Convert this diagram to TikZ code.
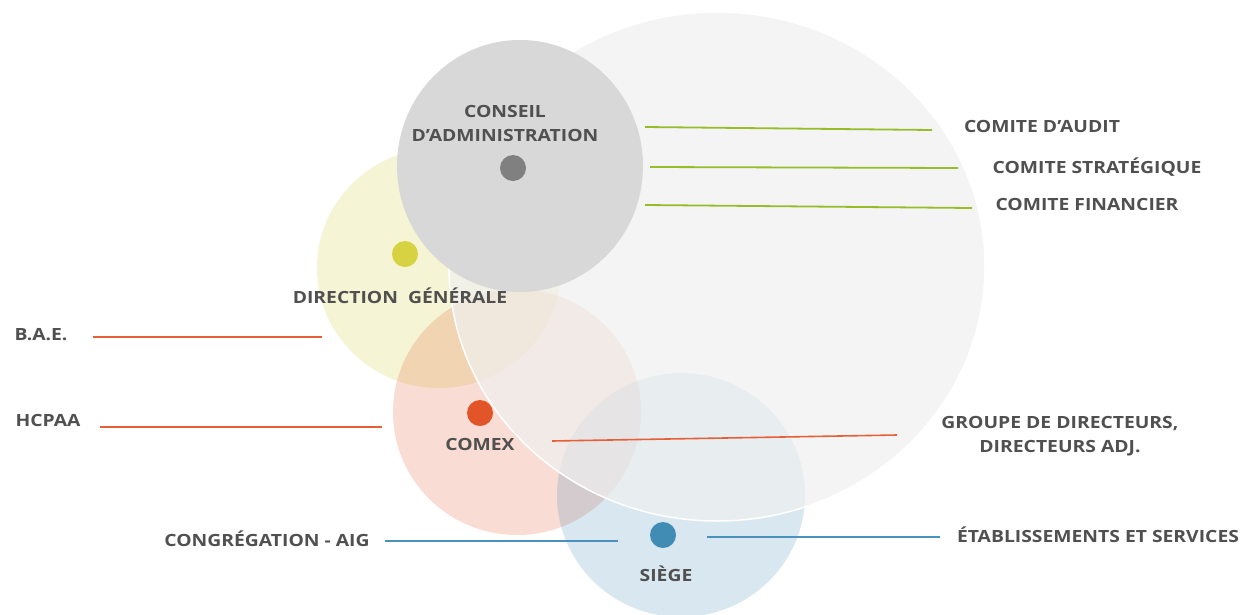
\documentclass[tikz,border=0pt]{standalone}
\usepackage{fontspec}
\setmainfont[FakeStretch=1.15]{Open Sans}
\begin{document}
\begin{tikzpicture}[x=1pt,y=-1pt,
  lbl/.style={font=\bfseries\fontsize{16.8}{24}\selectfont, text=txtgray, inner sep=0pt, align=center},
  dot/.style={circle, minimum size=26pt, inner sep=0pt},
  bigc/.style={ellipse, inner sep=0pt},
  gline/.style={draw=lgreen, line width=1.8pt},
  oline/.style={draw=lorange, line width=1.6pt},
  bline/.style={draw=lblue, line width=1.6pt}]
\usetikzlibrary{shapes.geometric}
\definecolor{txtgray}{RGB}{80,80,80}
\definecolor{cyel}{RGB}{210,205,65}
\definecolor{cora}{RGB}{226,85,40}
\definecolor{cblu}{RGB}{62,135,180}
\definecolor{cbig}{RGB}{240,240,240}
\definecolor{cgray}{RGB}{216,216,216}
\definecolor{dgray}{RGB}{128,128,128}
\definecolor{dyel}{RGB}{215,210,65}
\definecolor{dora}{RGB}{225,85,40}
\definecolor{dblu}{RGB}{65,140,180}
\definecolor{lgreen}{RGB}{150,188,40}
\definecolor{lorange}{RGB}{230,95,55}
\definecolor{lblue}{RGB}{75,145,190}
\useasboundingbox[fill=white] (0,0) rectangle (1248,614);
% circles
\node[bigc, minimum width=244pt, minimum height=240pt, fill=cyel, fill opacity=0.22] (cyellow) at (439,268) {};
\node[bigc, minimum width=248pt, minimum height=246pt, fill=cora, fill opacity=0.2] (cpink) at (517,412) {};
\node[bigc, minimum width=248pt, minimum height=244pt, fill=cblu, fill opacity=0.2] (cblue) at (681,495) {};
\node[bigc, minimum width=536pt, minimum height=509pt, fill=cbig, fill opacity=0.7, draw=white, line width=1.5pt] (cbigc) at (717,266.5) {};
\node[bigc, minimum width=246pt, minimum height=252pt, fill=cgray] (cgrayc) at (520,166) {};
% dots
\node[dot, fill=dgray] (dg) at (513,168) {};
\node[dot, fill=dyel] (dy) at (405,254) {};
\node[dot, fill=dora] (do) at (480,413) {};
\node[dot, fill=dblu] (db) at (663,535) {};
% labels
\node[lbl] (tca) at (505,123) {CONSEIL\\D’ADMINISTRATION};
\node[lbl] (tdg) at (400,296) {DIRECTION\ \ GÉNÉRALE};
\node[lbl] (tcomex) at (480,444) {COMEX};
\node[lbl] (tsiege) at (666,574) {SIÈGE};
\node[lbl] (tbae) at (41,335) {B.A.E.};
\node[lbl] (thc) at (48,420) {HCPAA};
\node[lbl] (tcong) at (267,539) {CONGRÉGATION - AIG};
\node[lbl] (tetab) at (1098,535) {ÉTABLISSEMENTS ET SERVICES};
\node[lbl] (tgrp) at (1060,436) {GROUPE DE DIRECTEURS,\\DIRECTEURS ADJ.};
\node[lbl] (taud) at (1042,126) {COMITE D’AUDIT};
\node[lbl] (tstr) at (1097,167) {COMITE STRATÉGIQUE};
\node[lbl] (tfin) at (1087,204) {COMITE FINANCIER};
% connector endpoints
\coordinate (a1) at (645,127); \coordinate (a2) at (932,130);
\coordinate (s1) at (650,167); \coordinate (s2) at (958,168);
\coordinate (f1) at (645,205); \coordinate (f2) at (972,208);
\coordinate (b1) at (93,337);  \coordinate (b2) at (322,337);
\coordinate (h1) at (100,427); \coordinate (h2) at (382,427);
\coordinate (g1) at (552,441); \coordinate (g2) at (897,435);
\coordinate (c1) at (385,541); \coordinate (c2) at (618,541);
\coordinate (e1) at (707,537); \coordinate (e2) at (940,537);
\draw[gline] (a1) -- (a2);
\draw[gline] (s1) -- (s2);
\draw[gline] (f1) -- (f2);
\draw[oline] (b1) -- (b2);
\draw[oline] (h1) -- (h2);
\draw[oline] (g1) -- (g2);
\draw[bline] (c1) -- (c2);
\draw[bline] (e1) -- (e2);
\end{tikzpicture}
\end{document}
